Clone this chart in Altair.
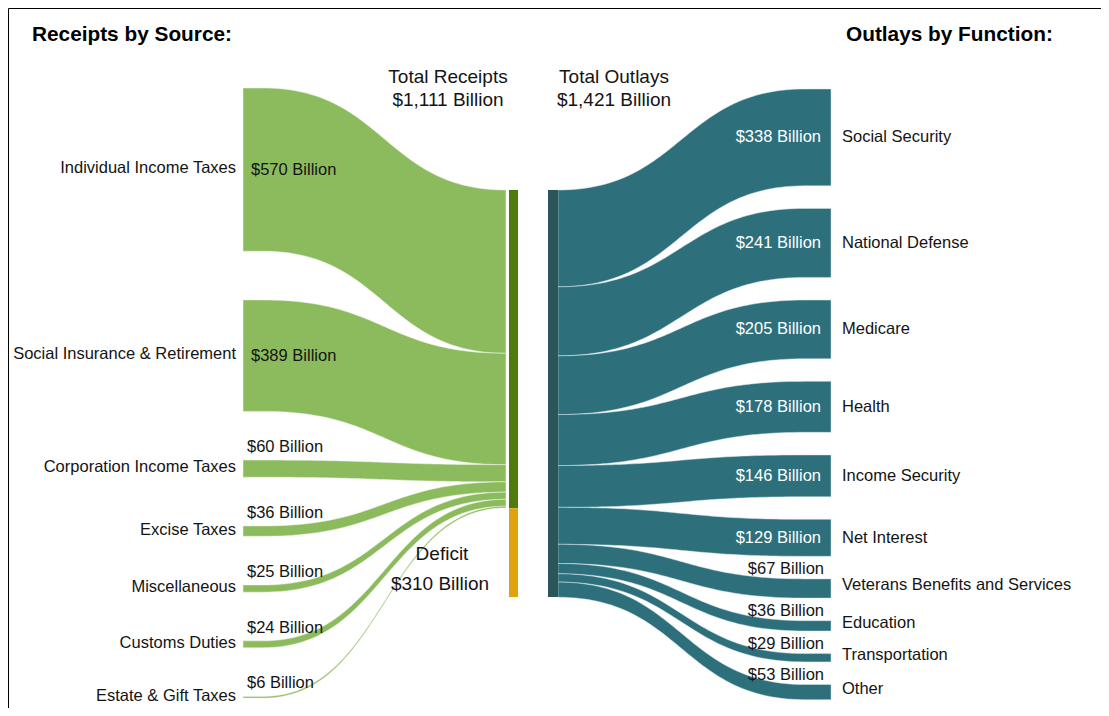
import numpy as np
import pandas as pd
import altair as alt

# ---------------- data ----------------
sources = ["Individual Income Taxes", "Social Insurance & Retirement", "Corporation Income Taxes",
           "Excise Taxes", "Miscellaneous", "Customs Duties", "Estate & Gift Taxes"]
source_values = [570, 389, 60, 36, 25, 24, 6]

functions = ["Social Security", "National Defense", "Medicare", "Health", "Income Security",
             "Net Interest", "Veterans Benefits and Services", "Education", "Transportation", "Other"]
function_values = [338, 241, 205, 178, 146, 129, 67, 36, 29, 53]

total_receipts = 1111
total_outlays = 1421
deficit = 310

# ---------------- layout (page pixels) ----------------
W, H = 1093, 700
X0, Y0 = 8, 8
FONT = "Liberation Sans"
BAR_TOP = 190
BAR_HEIGHT = 407
k = BAR_HEIGHT / total_outlays

L_NODE_X, L_CURVE_X, L_END_X = 243, 263, 506
REC_BAR = (509, 518)
OUT_BAR = (548, 558)
R_START_X, R_CURVE_X, R_NODE_X = 558, 805, 831
L_TOP, L_GAP = 88, 48.7
R_TOP, R_GAP = 89, 22.6

C_LEFT = "#8cbb5e"
C_REC = "#4e7b0c"
C_DEF = "#dfa30e"
C_RIGHT = "#2d6f7b"
C_OUT = "#2a555b"
C_TEXT = "#141414"

xs = alt.Scale(domain=[X0, X0 + W], nice=False, zero=False)
ys = alt.Scale(domain=[Y0, Y0 + H], nice=False, zero=False, reverse=True)


def bezier(xa, xb, ya, yb, n=60):
    t = np.linspace(0, 1, n)
    xm = (xa + xb) / 2
    x = (1 - t) ** 3 * xa + 3 * (1 - t) ** 2 * t * xm + 3 * (1 - t) * t ** 2 * xm + t ** 3 * xb
    y = (1 - t) ** 3 * ya + 3 * (1 - t) ** 2 * t * ya + 3 * (1 - t) * t ** 2 * yb + t ** 3 * yb
    return x, y


# ---------------- left links ----------------
left_rows = []
left_nodes = []
node_y = L_TOP
bar_y = BAR_TOP
for name, v in zip(sources, source_values):
    h = v * k
    left_nodes.append((name, v, node_y, h))
    left_rows.append(dict(link=name, x=L_NODE_X, y0=node_y, y1=node_y + h))
    bx, by_top = bezier(L_CURVE_X, L_END_X, node_y, bar_y)
    _, by_bot = bezier(L_CURVE_X, L_END_X, node_y + h, bar_y + h)
    for a, b, c in zip(bx, by_top, by_bot):
        left_rows.append(dict(link=name, x=a, y0=b, y1=c))
    node_y += h + L_GAP
    bar_y += h
left_df = pd.DataFrame(left_rows)

# ---------------- right links ----------------
right_rows = []
right_nodes = []
node_y = R_TOP
bar_y = BAR_TOP
for name, v in zip(functions, function_values):
    h = v * k
    right_nodes.append((name, v, node_y, h))
    bx, by_top = bezier(R_START_X, R_CURVE_X, bar_y, node_y)
    _, by_bot = bezier(R_START_X, R_CURVE_X, bar_y + h, node_y + h)
    for a, b, c in zip(bx, by_top, by_bot):
        right_rows.append(dict(link=name, x=a, y0=b, y1=c))
    right_rows.append(dict(link=name, x=R_NODE_X, y0=node_y, y1=node_y + h))
    node_y += h + R_GAP
    bar_y += h
right_df = pd.DataFrame(right_rows)

# ---------------- central bars ----------------
bars_df = pd.DataFrame([
    dict(x0=REC_BAR[0], x1=REC_BAR[1], y0=BAR_TOP, y1=BAR_TOP + total_receipts * k, c=C_REC),
    dict(x0=REC_BAR[0], x1=REC_BAR[1], y0=BAR_TOP + total_receipts * k,
         y1=BAR_TOP + (total_receipts + deficit) * k, c=C_DEF),
    dict(x0=OUT_BAR[0], x1=OUT_BAR[1], y0=BAR_TOP, y1=BAR_TOP + total_outlays * k, c=C_OUT),
])

left_links = alt.Chart(left_df).mark_area(
    color=C_LEFT, stroke="#eef4e6", strokeWidth=0.5, interpolate="linear"
).encode(
    x=alt.X("x:Q", scale=xs, axis=None),
    y=alt.Y("y0:Q", scale=ys, axis=None, stack=None),
    y2="y1:Q",
    detail="link:N",
)

right_links = alt.Chart(right_df).mark_area(
    color=C_RIGHT, stroke="#d5e6ea", strokeWidth=0.5, interpolate="linear"
).encode(
    x=alt.X("x:Q", scale=xs, axis=None),
    y=alt.Y("y0:Q", scale=ys, axis=None, stack=None),
    y2="y1:Q",
    detail="link:N",
)

bars = alt.Chart(bars_df).mark_rect().encode(
    x=alt.X("x0:Q", scale=xs, axis=None), x2="x1:Q",
    y=alt.Y("y0:Q", scale=ys, axis=None), y2="y1:Q",
    color=alt.Color("c:N", scale=None),
)


def text_layer(df, align, color, size, weight="normal"):
    return alt.Chart(df).mark_text(
        align=align, baseline="middle", font=FONT, fontSize=size, fontWeight=weight, color=color
    ).encode(
        x=alt.X("x:Q", scale=xs, axis=None),
        y=alt.Y("y:Q", scale=ys, axis=None),
        text="label:N",
    )


def fmt(v):
    return f"${v:,} Billion"


LBL = 16.5
# left labels
lname = pd.DataFrame([dict(x=236, y=top + h / 2 - 1.5, label=n) for n, v, top, h in left_nodes])
lval = pd.DataFrame([
    dict(x=251, y=top + h / 2, label=fmt(v)) if v >= 100 else dict(x=247, y=top - 13, label=fmt(v))
    for n, v, top, h in left_nodes
])
# right labels
rname = pd.DataFrame([dict(x=842, y=top + h / 2 - (0 if v >= 100 else 3), label=n)
                      for n, v, top, h in right_nodes])
rval_in = pd.DataFrame([dict(x=821, y=top + h / 2, label=fmt(v)) for n, v, top, h in right_nodes if v >= 100])
rval_out = pd.DataFrame([dict(x=824, y=top - 9.5, label=fmt(v)) for n, v, top, h in right_nodes if v < 100])

headers = pd.DataFrame([
    dict(x=32, y=35, label="Receipts by Source:"),
    dict(x=846, y=35, label="Outlays by Function:"),
])
totals = pd.DataFrame([
    dict(x=448, y=77, label="Total Receipts"),
    dict(x=448, y=100, label=fmt(total_receipts)),
    dict(x=614, y=77, label="Total Outlays"),
    dict(x=614, y=100, label=fmt(total_outlays)),
    dict(x=442, y=554, label="Deficit"),
    dict(x=440, y=584, label=fmt(deficit)),
])

chart = alt.layer(
    left_links,
    right_links,
    bars,
    text_layer(lname, "right", C_TEXT, LBL),
    text_layer(lval, "left", C_TEXT, LBL),
    text_layer(rname, "left", C_TEXT, LBL),
    text_layer(rval_in, "right", "white", LBL),
    text_layer(rval_out, "right", C_TEXT, LBL),
    text_layer(headers, "left", "#000000", 20.8, "bold"),
    text_layer(totals, "center", C_TEXT, 19),
).properties(
    width=W, height=H, padding=0, autosize=alt.AutoSizeParams(type="none"),
).configure_view(stroke="#000000", strokeWidth=1)

chart.save("out.html", embed_options={"renderer": "svg", "actions": False})
